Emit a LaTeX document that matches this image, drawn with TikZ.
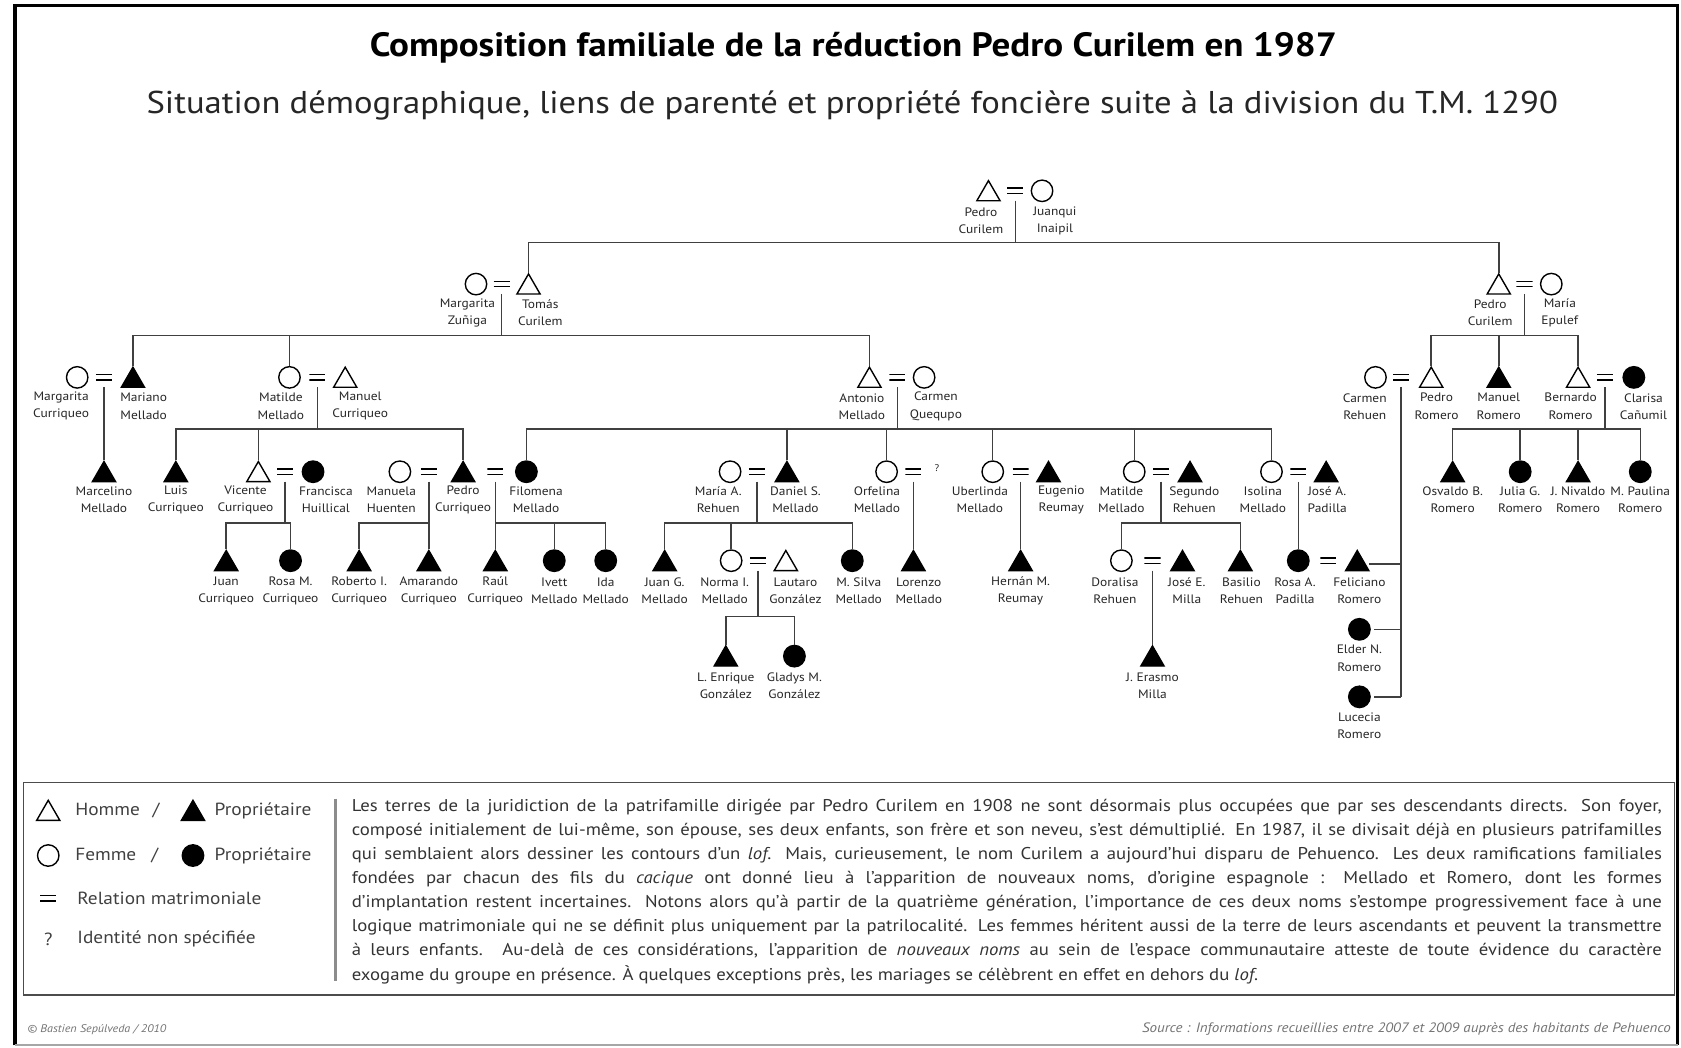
\documentclass[tikz,border=0pt]{standalone}
\usepackage{fontspec}
\setmainfont{PT Sans}[FakeStretch=1.1]
\usetikzlibrary{shapes.geometric}
\tikzset{
  sym/.style={inner sep=0pt, line width=1.3pt, draw=black},
  M/.style={sym, regular polygon, regular polygon sides=3, minimum size=25pt, yshift=-3pt},
  MP/.style={M, fill=black},
  F/.style={sym, circle, minimum size=20pt},
  FP/.style={F, fill=black},
  eqs/.style={inner sep=0pt, minimum width=15pt, minimum height=10pt,
    path picture={
      \draw[line width=1.3pt] ([yshift=2.5pt]path picture bounding box.west) -- ([yshift=2.5pt]path picture bounding box.east);
      \draw[line width=1.3pt] ([yshift=-2.5pt]path picture bounding box.west) -- ([yshift=-2.5pt]path picture bounding box.east);}},
  lbl/.style={font=\fontsize{11.4}{16}\selectfont, text=black!85, align=center, inner sep=0pt},
  tree/.style={line width=1.4pt, draw=black!75},
  desc/.style={tree, shorten <=4pt},
  legtxt/.style={font=\fontsize{16.4}{20}\selectfont, text=black!75, anchor=west, inner sep=0pt},
}
\begin{document}
\begin{tikzpicture}[x=1pt,y=-1pt]
\useasboundingbox (0,0) rectangle (1568,977);
% frame
\draw[line width=3pt] (14,975) -- (14,5) -- (1565,5) -- (1565,975);
\draw[line width=2pt, black!35] (14,975) -- (1565,975);
% titles
\node[font=\fontsize{31.4}{38}\selectfont\bfseries] (title) at (796,45) {Composition familiale de la réduction Pedro Curilem en 1987};
\node[font=\fontsize{29.4}{36}\selectfont, text=black!85] (subtitle) at (795,98) {Situation démographique, liens de parenté et propriété foncière suite à la division du T.M. 1290};

% ---------- Generation 1
\node[M] (pc) at (922,178) {};
\node[eqs] (e1) at (947,178) {};
\node[F] (ji) at (972,178) {};
\node[lbl] (lpc) at (915,206) {Pedro\\Curilem};
\node[lbl] (lji) at (984,206) {Juanqui\\Inaipil};
\coordinate (b1) at (947,226);

% ---------- Generation 2
\node[F] (mz) at (444,265) {};
\node[eqs] (e2) at (468,265) {};
\node[M] (tc) at (493,265) {};
\node[lbl] (lmz) at (436,292) {Margarita\\Zuñiga};
\node[lbl] (ltc) at (504,292) {Tomás\\Curilem};
\coordinate (b2) at (468,313);
\node[M] (pc2) at (1398,265) {};
\node[eqs] (e3) at (1422,265) {};
\node[F] (me) at (1447,265) {};
\node[lbl] (lpc2) at (1390,292) {Pedro\\Curilem};
\node[lbl] (lme) at (1455,292) {María\\Epulef};
\coordinate (b3) at (1422,313);

% ---------- Generation 3
\node[F] (mc) at (72,352) {};
\node[eqs] (e4) at (97,352) {};
\node[MP] (mm) at (124,352) {};
\node[lbl] (lmc) at (57,379) {Margarita\\Curriqueo};
\node[lbl] (lmm) at (134,379) {Mariano\\Mellado};
\node[F] (mat) at (270,352) {};
\node[eqs] (e5) at (296,352) {};
\node[M] (manc) at (322,352) {};
\node[lbl] (lmat) at (262,379) {Matilde\\Mellado};
\node[lbl] (lmanc) at (336,379) {Manuel\\Curriqueo};
\coordinate (b5) at (296,400);
\node[M] (am) at (811,352) {};
\node[eqs] (e6) at (837,352) {};
\node[F] (cq) at (862,352) {};
\node[lbl] (lam) at (804,379) {Antonio\\Mellado};
\node[lbl] (lcq) at (873,379) {Carmen\\Quequpo};
\coordinate (b6) at (837,400);
\node[F] (cr) at (1283,352) {};
\node[eqs] (e7) at (1307,352) {};
\node[M] (pr) at (1335,352) {};
\node[lbl] (lcr) at (1273,379) {Carmen\\Rehuen};
\node[lbl] (lpr) at (1340,379) {Pedro\\Romero};
\node[MP] (manr) at (1398,352) {};
\node[lbl] (lmanr) at (1398,379) {Manuel\\Romero};
\node[M] (br) at (1472,352) {};
\node[eqs] (e8) at (1497,352) {};
\node[FP] (clc) at (1524,352) {};
\node[lbl] (lbr) at (1465,379) {Bernardo\\Romero};
\node[lbl] (lclc) at (1533,379) {Clarisa\\Cañumil};
\coordinate (b8) at (1497,400);

% ---------- Generation 4
\node[MP] (marc) at (97,440) {};
\node[lbl] (lmarc) at (97,466) {Marcelino\\Mellado};
\node[MP] (lc) at (164,440) {};
\node[lbl] (llc) at (164,466) {Luis\\Curriqueo};
\node[M] (vc) at (241,440) {};
\node[eqs] (e9) at (266,440) {};
\node[FP] (fh) at (292,440) {};
\node[lbl] (lvc) at (229,466) {Vicente\\Curriqueo};
\node[lbl] (lfh) at (304,466) {Francisca\\Huillical};
\coordinate (b9) at (266,488);
\node[F] (mh) at (373,440) {};
\node[eqs] (e10) at (400,440) {};
\node[MP] (pcu) at (432,440) {};
\node[eqs] (e11) at (462,440) {};
\node[FP] (fm) at (491,440) {};
\node[lbl] (lmh) at (365,466) {Manuela\\Huenten};
\node[lbl] (lpcu) at (432,466) {Pedro\\Curriqueo};
\node[lbl] (lfm) at (500,466) {Filomena\\Mellado};
\coordinate (b10) at (400,488);
\coordinate (b11) at (462,488);
\node[F] (mar) at (681,440) {};
\node[eqs] (e12) at (706,440) {};
\node[MP] (ds) at (734,440) {};
\node[lbl] (lmar) at (670,466) {María A.\\Rehuen};
\node[lbl] (lds) at (742,466) {Daniel S.\\Mellado};
\coordinate (b12) at (706,488);
\node[F] (orf) at (827,440) {};
\node[eqs] (e13) at (852,440) {};
\node[lbl, font=\fontsize{9}{11}\selectfont] (unk) at (874,437) {?};
\node[lbl] (lorf) at (818,466) {Orfelina\\Mellado};
\node[F] (ub) at (926,440) {};
\node[eqs] (e14) at (952,440) {};
\node[MP] (er) at (978,440) {};
\node[lbl] (lub) at (914,466) {Uberlinda\\Mellado};
\node[lbl] (ler) at (990,466) {Eugenio\\Reumay};
\node[F] (mat2) at (1058,440) {};
\node[eqs] (e15) at (1083,440) {};
\node[MP] (sr) at (1110,440) {};
\node[lbl] (lmat2) at (1046,466) {Matilde\\Mellado};
\node[lbl] (lsr) at (1114,466) {Segundo\\Rehuen};
\coordinate (b15) at (1083,488);
\node[F] (is) at (1186,440) {};
\node[eqs] (e16) at (1211,440) {};
\node[MP] (jap) at (1237,440) {};
\node[lbl] (lis) at (1178,466) {Isolina\\Mellado};
\node[lbl] (ljap) at (1238,466) {José A.\\Padilla};
\node[MP] (ob) at (1355,440) {};
\node[lbl] (lob) at (1355,466) {Osvaldo B.\\Romero};
\node[FP] (jgr) at (1418,440) {};
\node[lbl] (ljgr) at (1418,466) {Julia G.\\Romero};
\node[MP] (jn) at (1472,440) {};
\node[lbl] (ljn) at (1472,466) {J. Nivaldo\\Romero};
\node[FP] (mpa) at (1530,440) {};
\node[lbl] (lmpa) at (1530,466) {M. Paulina\\Romero};

% ---------- Generation 5
\node[MP] (jc) at (211,523) {};
\node[lbl] (ljc) at (211,551) {Juan\\Curriqueo};
\node[FP] (rmc) at (271,523) {};
\node[lbl] (lrmc) at (271,551) {Rosa M.\\Curriqueo};
\node[MP] (ric) at (335,523) {};
\node[lbl] (lric) at (335,551) {Roberto I.\\Curriqueo};
\node[MP] (ac) at (400,523) {};
\node[lbl] (lac) at (400,551) {Amarando\\Curriqueo};
\node[MP] (rc) at (462,523) {};
\node[lbl] (lrc) at (462,551) {Raúl\\Curriqueo};
\node[FP] (iv) at (517,523) {};
\node[lbl] (liv) at (517,551) {Ivett\\Mellado};
\node[FP] (ida) at (565,523) {};
\node[lbl] (lida) at (565,551) {Ida\\Mellado};
\node[MP] (jgm) at (620,523) {};
\node[lbl] (ljgm) at (620,551) {Juan G.\\Mellado};
\node[F] (ni) at (682,523) {};
\node[eqs] (e17) at (707,523) {};
\node[M] (lg) at (733,523) {};
\node[lbl] (lni) at (676,551) {Norma I.\\Mellado};
\node[lbl] (llg) at (742,551) {Lautaro\\González};
\coordinate (b17) at (707,575);
\node[FP] (ms) at (795,523) {};
\node[lbl] (lms) at (801,551) {M. Silva\\Mellado};
\node[MP] (lm) at (852,523) {};
\node[lbl] (llm) at (857,551) {Lorenzo\\Mellado};
\node[MP] (hm) at (952,523) {};
\node[lbl] (lhm) at (952,551) {Hernán M.\\Reumay};
\node[F] (dr) at (1046,523) {};
\node[eqs] (e18) at (1075,523) {};
\node[MP] (jem) at (1103,523) {};
\node[lbl] (ldr) at (1040,551) {Doralisa\\Rehuen};
\node[lbl] (ljem) at (1107,551) {José E.\\Milla};
\node[MP] (bas) at (1157,523) {};
\node[lbl] (lbas) at (1158,551) {Basilio\\Rehuen};
\node[FP] (rap) at (1211,523) {};
\node[eqs] (e19) at (1239,523) {};
\node[MP] (fr) at (1266,523) {};
\node[lbl] (lrap) at (1208,551) {Rosa A.\\Padilla};
\node[lbl] (lfr) at (1268,551) {Feliciano\\Romero};
\node[FP] (en) at (1268,587) {};
\node[lbl] (len) at (1268,614) {Elder N.\\Romero};
\node[FP] (lr) at (1268,650) {};
\node[lbl] (llr) at (1268,677) {Lucecia\\Romero};
\coordinate (bpr) at (1307,650);

% ---------- Generation 6
\node[MP] (le) at (677,612) {};
\node[lbl] (lle) at (677,640) {L. Enrique\\González};
\node[FP] (gm) at (741,612) {};
\node[lbl] (lgm) at (741,640) {Gladys M.\\González};
\node[MP] (jer) at (1075,612) {};
\node[lbl] (ljer) at (1075,640) {J. Erasmo\\Milla};

% ---------- connectors
\draw[desc] (e1.south) -- (b1);
\draw[tree] (tc.north) -- (tc.north |- b1) -- (pc2.north |- b1) -- (pc2.north);
\draw[desc] (e2.south) -- (b2);
\draw[tree] (mm.north) -- (mm.north |- b2) -- (am.north |- b2) -- (am.north);
\draw[tree] (mat.north) -- (mat.north |- b2);
\draw[desc] (e3.south) -- (b3);
\draw[tree] (pr.north) -- (pr.north |- b3) -- (br.north |- b3) -- (br.north);
\draw[tree] (manr.north) -- (manr.north |- b3);
\draw[desc] (e4.south) -- (marc.north);
\draw[desc] (e5.south) -- (b5);
\draw[tree] (lc.north) -- (lc.north |- b5) -- (pcu.north |- b5) -- (pcu.north);
\draw[tree] (vc.north) -- (vc.north |- b5);
\draw[desc] (e6.south) -- (b6);
\draw[tree] (fm.north) -- (fm.north |- b6) -- (is.north |- b6) -- (is.north);
\foreach \n in {ds,orf,ub,mat2} \draw[tree] (\n.north) -- (\n.north |- b6);
\draw[desc] (e8.south) -- (b8);
\draw[tree] (ob.north) -- (ob.north |- b8) -- (mpa.north |- b8) -- (mpa.north);
\foreach \n in {jgr,jn} \draw[tree] (\n.north) -- (\n.north |- b8);
\draw[desc] (e9.south) -- (b9);
\draw[tree] (jc.north) -- (jc.north |- b9) -- (rmc.north |- b9) -- (rmc.north);
\draw[desc] (e10.south) -- (b10);
\draw[tree] (ric.north) -- (ric.north |- b10) -- (ac.north |- b10) -- (ac.north);
\draw[desc] (e11.south) -- (b11);
\draw[tree] (rc.north) -- (rc.north |- b11) -- (ida.north |- b11) -- (ida.north);
\draw[tree] (iv.north) -- (iv.north |- b11);
\draw[desc] (e12.south) -- (b12);
\draw[tree] (jgm.north) -- (jgm.north |- b12) -- (ms.north |- b12) -- (ms.north);
\draw[tree] (ni.north) -- (ni.north |- b12);
\draw[desc] (e13.south) -- (lm.north);
\draw[desc] (e14.south) -- (hm.north);
\draw[desc] (e15.south) -- (b15);
\draw[tree] (dr.north) -- (dr.north |- b15) -- (bas.north |- b15) -- (bas.north);
\draw[desc] (e16.south) -- (rap.north);
\draw[desc] (e17.south) -- (b17);
\draw[tree] (le.north) -- (le.north |- b17) -- (gm.north |- b17) -- (gm.north);
\draw[desc] (e18.south) -- (jer.north);
\draw[desc] (e7.south) -- (bpr);
\draw[tree, shorten <=3pt] (fr.east) -- (fr.east -| bpr);
\draw[tree, shorten <=3pt] (en.east) -- (en.east -| bpr);
\draw[tree, shorten <=3pt] (lr.east) -- (lr.east -| bpr);

% ---------- legend
\draw[line width=1.2pt, black!70] (22,730) rectangle (1562,928);
\draw[line width=2pt, black!45] (313,745) -- (313,915);
\node[M] (lgM) at (45,756) {};
\node[legtxt] (lgMt) at (70,756) {Homme\hspace{12pt}/};
\node[MP] (lgMP) at (180,756) {};
\node[legtxt] (lgMPt) at (200,756) {Propriétaire};
\node[F] (lgF) at (45,798) {};
\node[legtxt] (lgFt) at (70,798) {Femme\hspace{14pt}/};
\node[FP] (lgFP) at (180,798) {};
\node[legtxt] (lgFPt) at (200,798) {Propriétaire};
\node[eqs] (lgE) at (45,838) {};
\node[legtxt] (lgEt) at (72,838) {Relation matrimoniale};
\node[legtxt, anchor=center] (lgQ) at (45,876) {?};
\node[legtxt] (lgQt) at (72,876) {Identité non spécifiée};
\node[anchor=north west, inner sep=0pt, text width=1222pt, align=justify,
      font=\fontsize{15.9}{22.5}\selectfont, text=black!80] (para) at (328,745) {%
Les terres de la juridiction de la patrifamille dirigée par Pedro Curilem en 1908 ne sont désormais plus occupées que par ses descendants directs. Son foyer,\linebreak
composé initialement de lui-même, son épouse, ses deux enfants, son frère et son neveu, s’est démultiplié. En 1987, il se divisait déjà en plusieurs patrifamilles\linebreak
qui semblaient alors dessiner les contours d’un \textit{lof}. Mais, curieusement, le nom Curilem a aujourd’hui disparu de Pehuenco. Les deux ramifications familiales\linebreak
fondées par chacun des fils du \textit{cacique} ont donné lieu à l’apparition de nouveaux noms, d’origine espagnole : Mellado et Romero, dont les formes\linebreak
d’implantation restent incertaines. Notons alors qu’à partir de la quatrième génération, l’importance de ces deux noms s’estompe progressivement face à une\linebreak
logique matrimoniale qui ne se définit plus uniquement par la patrilocalité. Les femmes héritent aussi de la terre de leurs ascendants et peuvent la transmettre\linebreak
à leurs enfants. Au-delà de ces considérations, l’apparition de \textit{nouveaux noms} au sein de l’espace communautaire atteste de toute évidence du caractère\linebreak
exogame du groupe en présence. À quelques exceptions près, les mariages se célèbrent en effet en dehors du \textit{lof}.};

% ---------- footer
\node[anchor=west, font=\fontsize{10.3}{12}\selectfont\itshape, text=black!55] (copy) at (22,960) {© Bastien Sepúlveda / 2010};
\node[anchor=east, font=\fontsize{12.7}{15}\selectfont\itshape, text=black!55] (source) at (1562,960) {Source : Informations recueillies entre 2007 et 2009 auprès des habitants de Pehuenco};
\end{tikzpicture}
\end{document}
